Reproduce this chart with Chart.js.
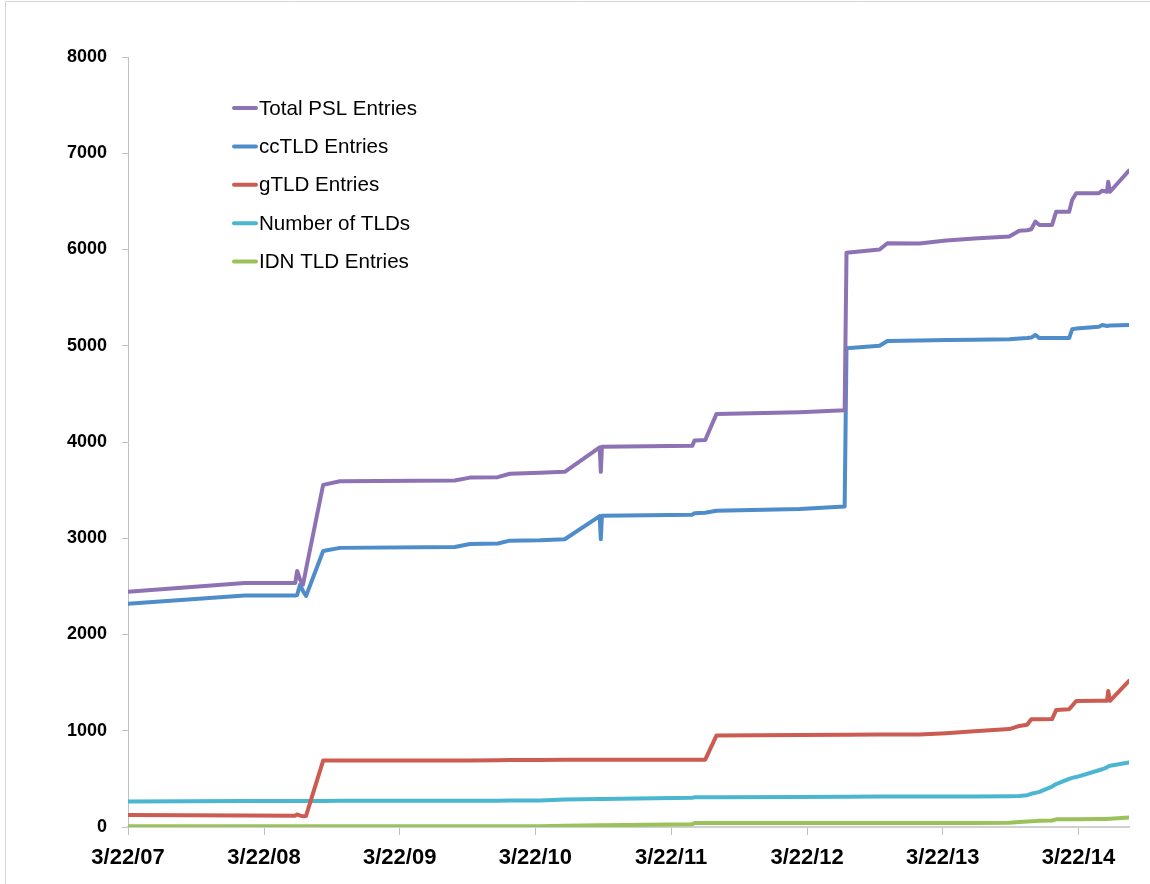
<!DOCTYPE html>
<html>
<head>
<meta charset="utf-8">
<title>PSL entries over time</title>
<script src="https://cdn.jsdelivr.net/npm/chart.js"></script>
<style>
  html, body { margin: 0; padding: 0; background: #fff; overflow: hidden; }
  #wrap { position: relative; width: 1150px; height: 884px; }
</style>
</head>
<body>
<div id="wrap"><canvas id="pslChart"></canvas></div>
<script>
// Sample dates (snapshots of the list)
const dates = [
  '2007-03-22', '2008-01-30', '2008-06-14', '2008-06-19', '2008-06-27', '2008-07-05', '2008-07-13', '2008-08-28', '2008-10-12', '2009-08-17',
  '2009-09-27', '2009-12-11', '2010-01-12', '2010-04-03', '2010-06-09', '2010-09-11', '2010-09-14', '2010-09-17', '2011-05-18', '2011-05-24',
  '2011-06-22', '2011-07-22', '2012-03-02', '2012-07-01', '2012-07-06', '2012-10-03', '2012-10-24', '2013-01-18', '2013-03-31', '2013-06-15',
  '2013-09-17', '2013-10-14', '2013-11-04', '2013-11-15', '2013-11-26', '2013-12-07', '2014-01-10', '2014-01-21', '2014-02-25', '2014-03-05',
  '2014-03-16', '2014-05-16', '2014-05-25', '2014-06-07', '2014-06-10', '2014-06-15', '2014-08-05'
];

const totalPSL = [
  2445, 2535, 2535, 2660, 2570, 2520, 2680, 3555, 3592, 3600,
  3630, 3635, 3670, 3680, 3690, 3945, 3690, 3950, 3960, 4015,
  4020, 4290, 4310, 4330, 5966, 6000, 6065, 6062, 6094, 6115,
  6135, 6195, 6200, 6210, 6290, 6255, 6255, 6393, 6393, 6514,
  6584, 6584, 6611, 6600, 6704, 6600, 6820
];
const ccTLD = [
  2320, 2405, 2405, 2410, 2520, 2450, 2400, 2868, 2900, 2910,
  2940, 2945, 2975, 2980, 2990, 3230, 2990, 3235, 3245, 3260,
  3265, 3285, 3305, 3330, 4975, 5000, 5050, 5055, 5060, 5063,
  5067, 5075, 5080, 5085, 5112, 5080, 5080, 5080, 5080, 5171,
  5178, 5198, 5215, 5205, 5208, 5210, 5215
];
const gTLD = [
  125, 120, 118, 130, 118, 112, 115, 690, 690, 690,
  692, 693, 695, 697, 698, 700, 700, 700, 700, 700,
  700, 950, 955, 958, 958, 960, 960, 962, 975, 995,
  1017, 1050, 1062, 1120, 1120, 1120, 1121, 1215, 1224, 1259,
  1310, 1311, 1311, 1311, 1414, 1311, 1518
];
const numTLDs = [
  265, 270, 270, 270, 270, 270, 270, 270, 272, 273,
  273, 274, 275, 276, 285, 292, 292, 292, 305, 308,
  308, 310, 312, 315, 315, 318, 318, 318, 318, 318,
  320, 322, 330, 345, 355, 365, 420, 446, 500, 510,
  519, 590, 600, 620, 630, 636, 671
];
const idnTLD = [
  8, 8, 8, 8, 8, 8, 8, 8, 8, 8,
  8, 8, 8, 8, 12, 18, 18, 18, 28, 42,
  42, 42, 42, 42, 42, 42, 42, 42, 42, 42,
  45, 52, 58, 60, 62, 65, 68, 80, 80, 80,
  80, 82, 83, 84, 85, 86, 100
];

const tickDates = ['2007-03-22', '2008-03-22', '2009-03-22', '2010-03-22', '2011-03-22', '2012-03-22', '2013-03-22', '2014-03-22'];
const tickLabels = ['3/22/07', '3/22/08', '3/22/09', '3/22/10', '3/22/11', '3/22/12', '3/22/13', '3/22/14'];

// days since the first snapshot
const start = Date.UTC(2007, 2, 22);
function dayOffset(s) {
  const p = s.split('-').map(Number);
  return (Date.UTC(p[0], p[1] - 1, p[2]) - start) / 86400000;
}
function series(values) {
  return values.map((v, i) => ({ x: dayOffset(dates[i]), y: v }));
}

// grey frame on the left / top like the original sheet
const frame = {
  id: 'frame',
  beforeDraw(chart) {
    const ctx = chart.ctx;
    ctx.save();
    ctx.strokeStyle = '#d4d4d4';
    ctx.lineWidth = 1;
    ctx.beginPath();
    ctx.moveTo(5.5, 884);
    ctx.lineTo(5.5, 1.5);
    ctx.lineTo(1150, 1.5);
    ctx.stroke();
    ctx.restore();
  }
};

// legend drawn inside the plot, top left
const insideLegend = {
  id: 'insideLegend',
  afterDraw(chart) {
    const ctx = chart.ctx;
    const a = chart.chartArea;
    ctx.save();
    ctx.font = '20.6px "Liberation Sans", Arial, sans-serif';
    ctx.textBaseline = 'middle';
    ctx.textAlign = 'left';
    chart.data.datasets.forEach((ds, i) => {
      const x = a.left + 104;
      const y = a.top + 51 + i * 38.4;
      ctx.strokeStyle = ds.borderColor;
      ctx.lineWidth = 4;
      ctx.lineCap = 'round';
      ctx.beginPath();
      ctx.moveTo(x + 2, y);
      ctx.lineTo(x + 24, y);
      ctx.stroke();
      ctx.fillStyle = '#000';
      ctx.fillText(ds.label, x + 27, y + 1);
    });
    ctx.restore();
  }
};

function lineSet(label, color, values) {
  return {
    label: label,
    data: series(values),
    borderColor: color,
    backgroundColor: color,
    borderWidth: 4,
    pointRadius: 0,
    tension: 0,
    borderCapStyle: 'round',
    borderJoinStyle: 'round',
    fill: false
  };
}

const ctx = document.getElementById('pslChart').getContext('2d');
const pslChart = new Chart(ctx, {
  type: 'line',
  data: {
    datasets: [
      lineSet('Total PSL Entries', '#8d72b4', totalPSL),
      lineSet('ccTLD Entries', '#4f8dca', ccTLD),
      lineSet('gTLD Entries', '#cc5b52', gTLD),
      lineSet('Number of TLDs', '#4bb6d0', numTLDs),
      lineSet('IDN TLD Entries', '#9bc15b', idnTLD)
    ]
  },
  options: {
    responsive: true,
    maintainAspectRatio: false,
    animation: false,
    layout: { padding: { top: 57, right: 21, bottom: 0, left: 0 } },
    plugins: {
      legend: { display: false },
      tooltip: { enabled: false }
    },
    scales: {
      x: {
        type: 'linear',
        min: 0,
        max: dayOffset(dates[dates.length - 1]),
        afterBuildTicks(scale) {
          scale.ticks = tickDates.map(d => ({ value: dayOffset(d) }));
        },
        afterFit(scale) { scale.height = 57; },
        ticks: {
          autoSkip: false,
          maxRotation: 0,
          padding: 10,
          color: '#000',
          font: { family: '"Liberation Sans", Arial, sans-serif', size: 22, weight: 'bold' },
          callback: (v, i) => tickLabels[i]
        },
        grid: { drawOnChartArea: false, drawTicks: true, tickLength: 8, color: '#bfbfbf' },
        border: { display: true, color: '#d0d0d0', width: 2 }
      },
      y: {
        min: 0,
        max: 8000,
        afterFit(scale) { scale.width = 128; },
        ticks: {
          stepSize: 1000,
          padding: 15,
          color: '#000',
          font: { family: '"Liberation Sans", Arial, sans-serif', size: 18, weight: 'bold' },
          callback: v => String(v)
        },
        grid: { drawOnChartArea: false, drawTicks: true, tickLength: 6, color: '#bfbfbf' },
        border: { display: true, color: '#bfbfbf', width: 1 }
      }
    }
  },
  plugins: [frame, insideLegend]
});
</script>
</body>
</html>
